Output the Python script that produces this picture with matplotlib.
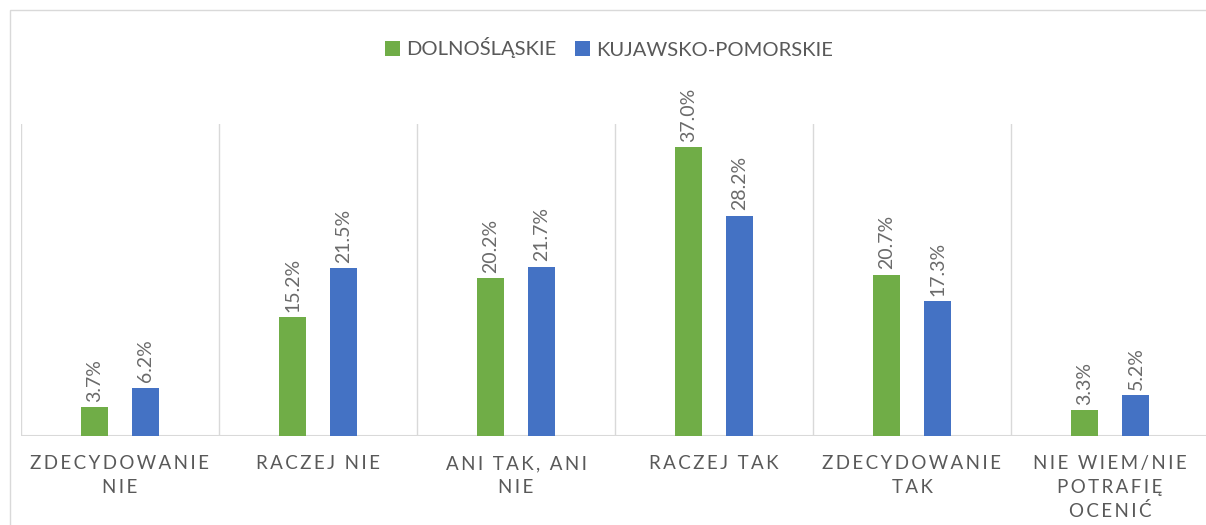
import matplotlib.pyplot as plt
from matplotlib.patches import Rectangle
import numpy as np

categories = ["ZDECYDOWANIE\nNIE", "RACZEJ NIE", "ANI TAK, ANI\nNIE", "RACZEJ TAK",
              "ZDECYDOWANIE\nTAK", "NIE WIEM/NIE\nPOTRAFIĘ\nOCENIĆ"]
dolnoslaskie = [3.7, 15.2, 20.2, 37.0, 20.7, 3.3]
kujawsko = [6.2, 21.5, 21.7, 28.2, 17.3, 5.2]
series_names = ["DOLNOŚLĄSKIE", "KUJAWSKO-POMORSKIE"]

green = "#70ad47"
blue = "#4472c4"
gray = "#595959"
fam = ["Lato", "DejaVu Sans"]


def spaced(s):
    # letter spacing like the original axis labels
    return "\n".join("\u2009".join(ch if ch != " " else "\u2009\u2009" for ch in line)
                     for line in s.split("\n"))


fig = plt.figure(figsize=(12.06, 5.25), dpi=100)
fig.patches.append(Rectangle((10 / 1206, -0.1), 1.2, (1 - 10 / 525) + 0.1,
                             transform=fig.transFigure, fill=False,
                             edgecolor="#d9d9d9", linewidth=1))
ax = fig.add_axes([21 / 1206, 1 - 436 / 525, 1188 / 1206, 312 / 525])

x = np.arange(len(categories))
w = 0.136
b1 = ax.bar(x - 0.127, dolnoslaskie, w, color=green, label=series_names[0], zorder=3)
b2 = ax.bar(x + 0.131, kujawsko, w, color=blue, label=series_names[1], zorder=3)

for bars, vals in ((b1, dolnoslaskie), (b2, kujawsko)):
    for r, v in zip(bars, vals):
        ax.annotate(f"{v:.1f}%", (r.get_x() + r.get_width() / 2, v),
                    xytext=(0, 4), textcoords="offset points", rotation=90,
                    ha="center", va="bottom", fontsize=14, color="#6a6a6a",
                    family=fam)

ax.set_xlim(-0.5, len(categories) - 0.5)
ax.set_ylim(0, 40)
for s in ax.spines.values():
    s.set_visible(False)
ax.axhline(0, color="#d9d9d9", linewidth=1.5, zorder=2)
for xs in np.arange(-0.5, len(categories), 1.0):
    ax.axvline(xs, color="#d9d9d9", linewidth=1, zorder=1)
ax.set_yticks([])
ax.set_xticks(x)
ax.set_xticklabels([spaced(c) for c in categories], fontsize=13.5, color=gray,
                   family=fam, linespacing=1.45, va="top")
ax.tick_params(axis="x", length=0, pad=14)

leg = fig.legend(loc="center", bbox_to_anchor=(0.505, 1 - 48 / 525), ncol=2,
                 frameon=False, handlelength=0.75, handleheight=0.75,
                 handletextpad=0.3, columnspacing=0.9,
                 prop={"family": fam, "size": 14.5})
for t in leg.get_texts():
    t.set_color(gray)

fig.savefig("out.png", dpi=100)
